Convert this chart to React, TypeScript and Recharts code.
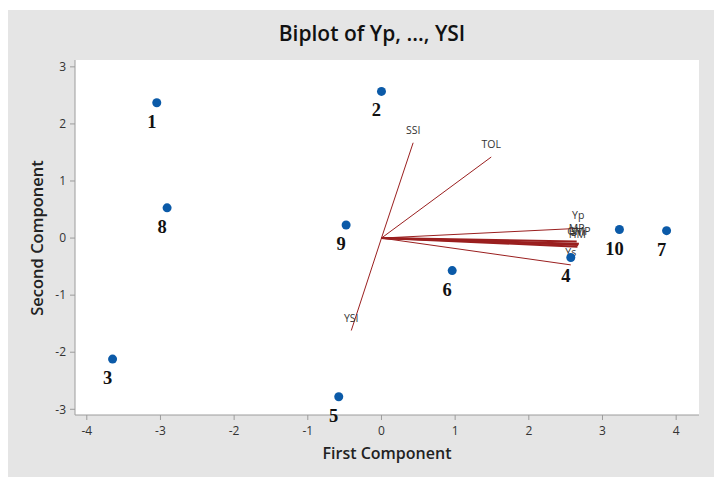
import React from 'react'
import {
  ScatterChart,
  Scatter,
  XAxis,
  YAxis,
  CartesianGrid,
  ReferenceLine,
} from 'recharts'

// genotype scores on the first two components
const genotypes = ['1', '2', '3', '4', '5', '6', '7', '8', '9', '10']
const pc1 = [-3.05, 0.0, -3.65, 2.57, -0.58, 0.96, 3.87, -2.91, -0.48, 3.23]
const pc2 = [2.37, 2.57, -2.12, -0.34, -2.78, -0.57, 0.13, 0.53, 0.23, 0.15]

// variable loadings (vectors from the origin)
const variables = ['Yp', 'Ys', 'TOL', 'MP', 'GMP', 'HM', 'STI', 'YSI', 'SSI']
const load1 = [2.67, 2.57, 1.49, 2.65, 2.68, 2.66, 2.67, -0.41, 0.43]
const load2 = [0.17, -0.47, 1.42, -0.06, -0.1, -0.15, -0.12, -1.62, 1.67]
const thick = ['MP', 'GMP', 'HM', 'STI']

const xTicks = [-4, -3, -2, -1, 0, 1, 2, 3, 4]
const yTicks = [-3, -2, -1, 0, 1, 2, 3]

const scores = genotypes.map((name, i) => ({ name, x: pc1[i], y: pc2[i] }))
const loadings = variables.map((name, i) => ({ name, x: load1[i], y: load2[i] }))

const sans = '"Open Sans", "Noto Sans", sans-serif'
const lineColor = '#9a1f1f'

const Dot = (props: any) => (
  <circle cx={props.cx} cy={props.cy} r={4.5} fill="#0b5aa8" />
)

const PointLabel = (props: any) => (
  <text
    x={props.cx - 5}
    y={props.cy + 19}
    textAnchor="middle"
    dominantBaseline="central"
    fontFamily='"Liberation Serif", "Times New Roman", serif'
    fontWeight="bold"
    fontSize={18.5}
    fill="#111"
  >
    {props.payload.name}
  </text>
)

const VarLabel = (props: any) => (
  <text
    x={props.cx}
    y={props.cy - 13}
    textAnchor="middle"
    dominantBaseline="central"
    fontFamily={sans}
    fontSize={10.5}
    fill="#333"
  >
    {props.payload.name}
  </text>
)

export default function App() {
  return (
    <div
      style={{
        position: 'relative',
        width: 714,
        height: 467,
        marginTop: 2,
        background: '#e5e5e5',
        fontFamily: sans,
      }}
    >
      <div
        style={{
          position: 'absolute',
          left: 164,
          top: 8,
          width: 400,
          textAlign: 'center',
          fontSize: 21,
          fontWeight: 600,
          color: '#111',
          lineHeight: '30px',
        }}
      >
        Biplot of Yp, ..., YSI
      </div>
      <div
        style={{
          position: 'absolute',
          left: 279,
          top: 432,
          width: 200,
          textAlign: 'center',
          fontSize: 16,
          fontWeight: 600,
          color: '#222',
          lineHeight: '22px',
        }}
      >
        First Component
      </div>
      <div
        style={{
          position: 'absolute',
          left: 29 - 100,
          top: 228 - 11,
          width: 200,
          textAlign: 'center',
          fontSize: 16.5,
          fontWeight: 600,
          color: '#222',
          lineHeight: '22px',
          transform: 'rotate(-90deg)',
        }}
      >
        Second Component
      </div>
      <ScatterChart
        width={714}
        height={467}
        margin={{ top: 50, right: 23, bottom: 32, left: 37 }}
        style={{ position: 'absolute', left: 0, top: 0 }}
      >
        <CartesianGrid horizontal={false} vertical={false} fill="#ffffff" />
        <XAxis
          type="number"
          dataKey="x"
          domain={[-4.16, 4.31]}
          ticks={xTicks}
          height={30}
          tickSize={5}
          tickMargin={6}
          stroke="#9c9c9c"
          tick={{ fontSize: 12, fill: '#333', fontFamily: sans }}
        />
        <XAxis
          xAxisId="top"
          orientation="top"
          type="number"
          dataKey="x"
          domain={[-4.16, 4.31]}
          height={0}
          tick={false}
          tickLine={false}
          stroke="#9c9c9c"
        />
        <YAxis
          type="number"
          dataKey="y"
          domain={[-3.1, 3.12]}
          ticks={yTicks}
          width={30}
          tickSize={5}
          tickMargin={4}
          stroke="#9c9c9c"
          tick={{ fontSize: 12, fill: '#333', fontFamily: sans }}
        />
        <YAxis
          yAxisId="right"
          orientation="right"
          type="number"
          dataKey="y"
          domain={[-3.1, 3.12]}
          width={0}
          tick={false}
          tickLine={false}
          stroke="#8a8a8a"
          strokeWidth={2}
        />
        {loadings.map((v) => (
          <ReferenceLine
            key={v.name}
            segment={[
              { x: 0, y: 0 },
              { x: v.x, y: v.y },
            ]}
            stroke={lineColor}
            strokeWidth={thick.includes(v.name) ? 2 : 1}
          />
        ))}
        <Scatter data={loadings} shape={VarLabel} isAnimationActive={false} />
        <Scatter data={scores} shape={Dot} isAnimationActive={false} />
        <Scatter data={scores} shape={PointLabel} isAnimationActive={false} />
      </ScatterChart>
    </div>
  )
}
